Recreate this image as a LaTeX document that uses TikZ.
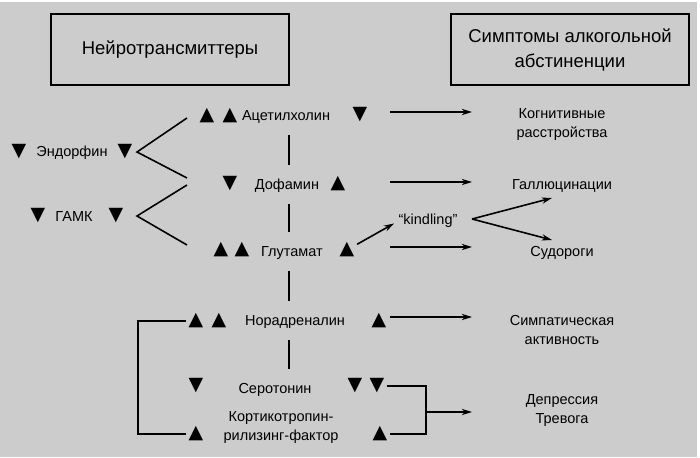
\documentclass[tikz,border=0pt]{standalone}
\usepackage{fontspec}
\setmainfont{Liberation Sans}
\newfontfamily\trifont{DejaVu Sans}
\usetikzlibrary{arrows.meta,calc}
\definecolor{bggray}{HTML}{CCCCCC}
\newcommand{\tup}{{\trifont\fontsize{19}{19}\selectfont ▲}}
\newcommand{\tdn}{{\trifont\fontsize{19}{19}\selectfont ▼}}
\tikzset{%
  >={Stealth[width=2.2mm,length=3.6mm]},
  % Specifications for style of nodes:
      head/.style = {rectangle, draw=black, line width=2.2pt,
                     minimum width=238pt, minimum height=71pt,
                     align=center, font=\fontsize{18.5}{25}\selectfont},
        nt/.style = {inner sep=0pt, text height=10pt, text depth=3pt,
                     align=center, font=\fontsize{14.5}{19}\selectfont},
       sym/.style = {nt},
       tri/.style = {inner sep=0pt},
      conn/.style = {line width=1.6pt},
       arr/.style = {conn, ->},
      link/.style = {conn, shorten <=18pt, shorten >=21pt},
}

\begin{document}
\begin{tikzpicture}[x=1pt, y=-1pt]
  \useasboundingbox (0,0) rectangle (700,457);
  \fill[white] (0,0) rectangle (700,457);
  \fill[bggray] (0,2) rectangle (697,457);
  % Headers
  \node (nthead)  [head] at (170,49.5) {Нейротрансмиттеры};
  \node (symhead) [head] at (570,49.5) {Симптомы алкогольной\\абстиненции};
  % Neurotransmitters with their changes
  \node (ach-l1) [tri] at (207,116) {\tup};
  \node (ach-l2) [tri] at (230,116) {\tup};
  \node (ach)    [nt]  at (286,117) {Ацетилхолин};
  \node (ach-r)  [tri] at (360,115) {\tdn};
  \node (dof-l)  [tri] at (230,184) {\tdn};
  \node (dof)    [nt]  at (287,186) {Дофамин};
  \node (dof-r)  [tri] at (338,184) {\tup};
  \node (glu-l1) [tri] at (221,250) {\tup};
  \node (glu-l2) [tri] at (242,250) {\tup};
  \node (glu)    [nt]  at (292,253) {Глутамат};
  \node (glu-r)  [tri] at (347,250) {\tup};
  \node (nor-l1) [tri] at (196,321) {\tup};
  \node (nor-l2) [tri] at (219,321) {\tup};
  \node (nor)    [nt]  at (295,322) {Норадреналин};
  \node (nor-r)  [tri] at (379,321) {\tup};
  \node (ser-l)  [tri] at (196,386) {\tdn};
  \node (ser)    [nt]  at (275,390) {Серотонин};
  \node (ser-r1) [tri] at (355,386) {\tdn};
  \node (ser-r2) [tri] at (377,386) {\tdn};
  \node (crf)    [nt]  at (281,436.5) {Кортикотропин-\\рилизинг-фактор};
  \node (crf-l)  [tri] at (196,434) {\tup};
  \node (crf-r)  [tri] at (380,434) {\tup};
  \node (end-l)  [tri] at (19,152)  {\tdn};
  \node (end)    [nt]  at (72,153)  {Эндорфин};
  \node (end-r)  [tri] at (125,152) {\tdn};
  \node (gaba-l) [tri] at (38,216)  {\tdn};
  \node (gaba)   [nt]  at (74,218)  {ГАМК};
  \node (gaba-r) [tri] at (116,216) {\tdn};
  % Symptoms
  \node (cog)   [sym] at (562,134.5) {Когнитивные\\расстройства};
  \node (hal)   [sym] at (562,186) {Галлюцинации};
  \node (sei)   [sym] at (562,253) {Судороги};
  \node (sympa) [sym] at (562,340.5) {Симпатическая\\активность};
  \node (dep)   [sym] at (562,419.5) {Депрессия\\Тревога};
  \node (kind)  [nt]  at (428,221) {“kindling”};
  % Helper points
  \coordinate (spine) at (289,0);
  \coordinate (col-s) at (390,0);
  \coordinate (col-e) at (472,0);
  \coordinate (brk-l) at (138,0);
  \coordinate (brk-r) at (426,412);
  \coordinate (end-fork)  at (137,152);
  \coordinate (end-a)     at (187,118);
  \coordinate (end-b)     at (187,178);
  \coordinate (gaba-fork) at (137,216);
  \coordinate (gaba-a)    at (187,185);
  \coordinate (gaba-b)    at (187,245);
  \coordinate (kind-fork) at (472,219);
  \coordinate (kind-a)    at (552,198);
  \coordinate (kind-b)    at (552,240);
  % Lines between nodes
  \draw[link] (ach -| spine) -- (dof -| spine);
  \draw[link] (dof -| spine) -- (glu -| spine);
  \draw[link] (glu -| spine) -- (nor -| spine);
  \draw[link] (nor -| spine) -- (ser -| spine);
  \draw[conn] (end-a) -- (end-fork) -- (end-b);
  \draw[conn] (gaba-a) -- (gaba-fork) -- (gaba-b);
  \draw[arr] ($(ach-r -| col-s)+(0,-3)$) -- ($(ach-r -| col-e)+(0,-3)$);
  \draw[arr] ($(dof-r -| col-s)+(0,-2)$) -- ($(dof-r -| col-e)+(0,-2)$);
  \draw[arr] ($(glu-r -| col-s)+(0,-3)$) -- ($(glu-r -| col-e)+(0,-3)$);
  \draw[arr] ($(nor-r -| col-s)+(0,-4)$) -- ($(nor-r -| col-e)+(0,-4)$);
  \draw[arr, shorten <=3pt, shorten >=5pt] (glu-r) -- (kind.west);
  \draw[arr] (kind-fork) -- (kind-a);
  \draw[arr] (kind-fork) -- (kind-b);
  \draw[conn, shorten <=2pt, shorten >=2pt] (nor-l1.west) -- (nor-l1.west -| brk-l)
        -- (crf-l.west -| brk-l) -- (crf-l.west);
  \draw[conn, shorten <=2pt, shorten >=2pt] (ser-r2.east) -| (brk-r) |- (crf-r.east);
  \draw[arr] (brk-r) -- (brk-r -| col-e);
\end{tikzpicture}
\end{document}
